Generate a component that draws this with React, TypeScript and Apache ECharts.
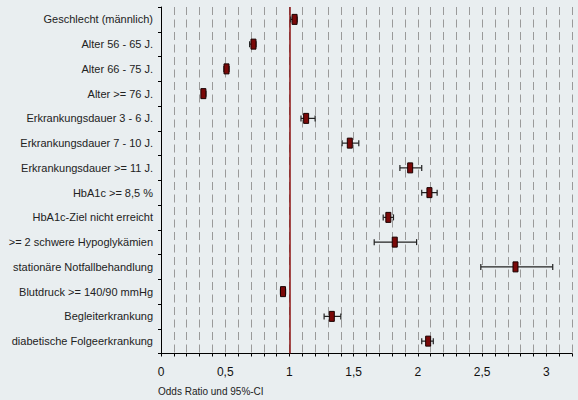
import React, { useEffect, useRef } from "react";
import * as echarts from "echarts";

const categories = [
  "Geschlecht (männlich)",
  "Alter 56 - 65 J.",
  "Alter 66 - 75 J.",
  "Alter >= 76 J.",
  "Erkrankungsdauer 3 - 6 J.",
  "Erkrankungsdauer 7 - 10 J.",
  "Erkrankungsdauer >= 11 J.",
  "HbA1c >= 8,5 %",
  "HbA1c-Ziel nicht erreicht",
  ">= 2 schwere Hypoglykämien",
  "stationäre Notfallbehandlung",
  "Blutdruck >= 140/90 mmHg",
  "Begleiterkrankung",
  "diabetische Folgeerkrankung",
];
const oddsRatio = [1.04, 0.72, 0.51, 0.33, 1.13, 1.47, 1.94, 2.09, 1.77, 1.82, 2.76, 0.95, 1.33, 2.08];
const ciLow = [1.01, 0.69, 0.49, 0.32, 1.09, 1.41, 1.86, 2.03, 1.73, 1.66, 2.49, 0.93, 1.27, 2.03];
const ciHigh = [1.06, 0.74, 0.53, 0.35, 1.2, 1.54, 2.03, 2.15, 1.81, 1.99, 3.05, 0.97, 1.4, 2.12];
const tickLabels = ["0", "0,5", "1", "1,5", "2", "2,5", "3"];
const axisName = "Odds Ratio und 95%-CI";

const FONT = "Liberation Sans, Arial, sans-serif";

export default function App() {
  const ref = useRef<HTMLDivElement>(null);
  useEffect(() => {
    document.body.style.margin = "0";
    if (!ref.current) return;
    const chart = echarts.init(ref.current, undefined, { renderer: "svg" });
    const data = categories.map((_, i) => [oddsRatio[i], i, ciLow[i], ciHigh[i]]);
    chart.setOption({
      animation: false,
      backgroundColor: "#e9eef0",
      textStyle: { fontFamily: FONT },
      grid: { left: 161, right: 6, top: 7, bottom: 46.5 },
      xAxis: {
        type: "value",
        min: 0,
        max: 3.2,
        interval: 0.1,
        axisLine: { show: true, lineStyle: { color: "#000", width: 1 } },
        axisTick: { show: true, length: 3, lineStyle: { color: "#000" } },
        axisLabel: {
          fontSize: 12,
          color: "#111",
          margin: 12,
          fontFamily: FONT,
          formatter: (v: number) => {
            const k = Math.round(v * 10);
            if (k % 5 !== 0) return "";
            return tickLabels[k / 5] ?? "";
          },
        },
        splitLine: {
          show: true,
          lineStyle: { color: "#9a9a9a", width: 1, type: [8, 4.5] },
        },
      },
      yAxis: {
        type: "category",
        data: categories,
        inverse: true,
        boundaryGap: true,
        axisLine: { show: true, lineStyle: { color: "#000", width: 1 } },
        axisTick: { show: true, length: 3, alignWithLabel: false, lineStyle: { color: "#000" } },
        axisLabel: { fontSize: 11, color: "#222", margin: 8, fontFamily: FONT },
        splitLine: { show: false },
      },
      graphic: [
        {
          type: "text",
          left: 158,
          top: 386,
          style: { text: axisName, fontSize: 10, fill: "#222", fontFamily: FONT },
        },
      ],
      series: [
        {
          type: "custom",
          coordinateSystem: "cartesian2d",
          encode: { x: [0, 2, 3], y: 1 },
          data,
          renderItem: (params: any, api: any) => {
            const idx = api.value(1);
            const p = api.coord([api.value(0), idx]);
            const lo = api.coord([api.value(2), idx]);
            const hi = api.coord([api.value(3), idx]);
            const y = p[1];
            const capH = 6;
            const w = 5;
            const h = 10;
            return {
              type: "group",
              children: [
                {
                  type: "line",
                  shape: { x1: lo[0], y1: y, x2: hi[0], y2: y },
                  style: { stroke: "#222", lineWidth: 1.2 },
                },
                {
                  type: "line",
                  shape: { x1: lo[0], y1: y - capH / 2, x2: lo[0], y2: y + capH / 2 },
                  style: { stroke: "#222", lineWidth: 1.2 },
                },
                {
                  type: "line",
                  shape: { x1: hi[0], y1: y - capH / 2, x2: hi[0], y2: y + capH / 2 },
                  style: { stroke: "#222", lineWidth: 1.2 },
                },
                {
                  type: "rect",
                  shape: { x: p[0] - w / 2, y: y - h / 2, width: w, height: h },
                  style: { fill: "#7a0808", stroke: "#1a0000", lineWidth: 1 },
                },
              ],
            };
          },
          markLine: {
            silent: true,
            symbol: "none",
            label: { show: false },
            lineStyle: { color: "#8b1010", width: 1.5, type: "solid" },
            data: [{ xAxis: 1 }],
          },
          z: 5,
        },
      ],
    });
    return () => chart.dispose();
  }, []);
  return <div ref={ref} style={{ width: 578, height: 400 }} />;
}
